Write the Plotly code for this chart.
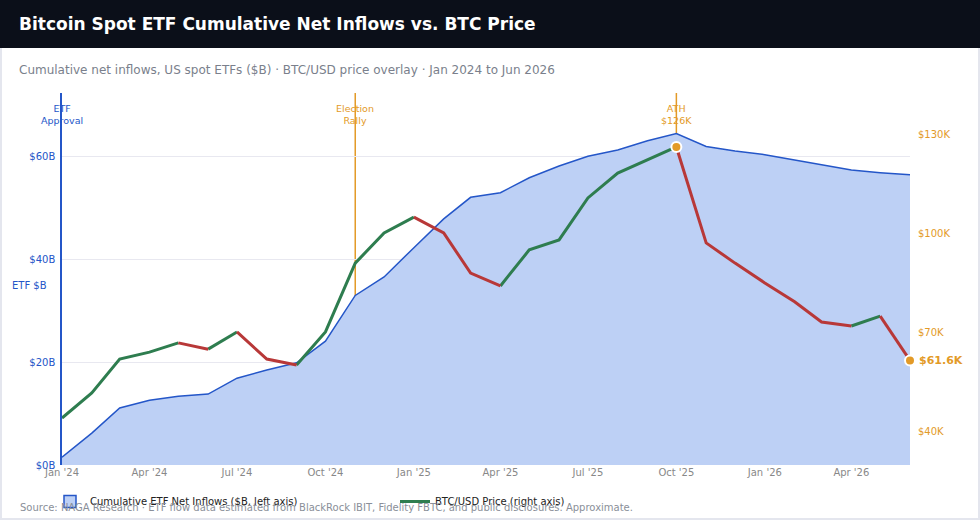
import plotly.graph_objects as go
import pandas as pd

# ---- data ----
months = pd.date_range("2024-01-01", "2026-06-01", freq="MS").strftime("%Y-%m-%d").tolist()
etf_cum_b = [1.5, 6.2, 11.1, 12.6, 13.4, 13.8, 16.9, 18.5, 19.9, 24.1,
             33.0, 36.6, 42.3, 47.9, 52.1, 53.0, 55.9, 58.2, 60.1, 61.3,
             63.1, 64.5, 62.0, 61.1, 60.4, 59.4, 58.4, 57.4, 56.9, 56.5]
btc_price_k = [44.2, 51.8, 62.0, 64.1, 66.9, 65.0, 70.2, 62.0, 60.2, 70.2,
               91.0, 100.1, 104.9, 100.1, 88.0, 84.1, 95.0, 98.0, 110.7, 118.2,
               122.1, 126.1, 97.1, 91.0, 85.0, 79.3, 73.2, 72.0, 75.0, 61.6]
left_ticks = [0, 20, 40, 60]
left_ticktext = ["$0B", "$20B", "$40B", "$60B"]
right_ticks = [40, 70, 100, 130]
right_ticktext = ["$40K", "$70K", "$100K", "$130K"]
events = [("2024-01-01", "ETF<br>Approval", "#2456c8"),
          ("2024-11-01", "Election<br>Rally", "#e39a27"),
          ("2025-10-01", "ATH<br>$126K", "#e39a27")]

BLUE = "#2456c8"
ORANGE = "#e39a27"
GREEN = "#2e7d4f"
RED = "#b83838"
FILL = "#bdd0f5"
FONT = "DejaVu Sans"

W, H = 980, 520
L, R, T, B = 62, 70, 93, 55
PW, PH = W - L - R, H - T - B


def pxx(x):
    return (x - L) / PW


def pxy(y):
    return (H - B - y) / PH


fig = go.Figure()

fig.add_trace(go.Scatter(
    x=months, y=etf_cum_b, mode="lines", fill="tozeroy",
    line=dict(color=BLUE, width=1.5), fillcolor=FILL,
    name="Cumulative ETF Net Inflows ($B, left axis)", yaxis="y", showlegend=False,
))
# legend swatch for the area
fig.add_trace(go.Scatter(
    x=[None], y=[None], mode="markers", yaxis="y",
    marker=dict(symbol="square", size=12, color=FILL, line=dict(color=BLUE, width=1.5)),
    name="Cumulative ETF Net Inflows ($B, left axis)", legendrank=1,
))

# price segments coloured by direction, grouped into runs
runs = {GREEN: ([], []), RED: ([], [])}
i = 0
n = len(btc_price_k)
while i < n - 1:
    col = GREEN if btc_price_k[i + 1] >= btc_price_k[i] else RED
    j = i
    while j < n - 1 and ((btc_price_k[j + 1] >= btc_price_k[j]) == (col == GREEN)):
        j += 1
    xs, ys = runs[col]
    xs.extend(months[i:j + 1] + [None])
    ys.extend(btc_price_k[i:j + 1] + [None])
    i = j

fig.add_trace(go.Scatter(x=runs[GREEN][0], y=runs[GREEN][1], mode="lines",
                         line=dict(color=GREEN, width=3), yaxis="y2",
                         name="BTC/USD Price (right axis)", connectgaps=False, legendrank=2))
fig.add_trace(go.Scatter(x=runs[RED][0], y=runs[RED][1], mode="lines",
                         line=dict(color=RED, width=3), yaxis="y2",
                         showlegend=False, connectgaps=False))

ath_i = btc_price_k.index(max(btc_price_k))
fig.add_trace(go.Scatter(
    x=[months[ath_i], months[-1]], y=[btc_price_k[ath_i], btc_price_k[-1]],
    mode="markers", marker=dict(color=ORANGE, size=10, line=dict(color="white", width=2)),
    yaxis="y2", showlegend=False, cliponaxis=False,
))

shapes = []
annotations = []
# frame
shapes.append(dict(type="rect", xref="paper", yref="paper", x0=pxx(1), x1=pxx(979), y0=pxy(519), y1=pxy(1),
                   line=dict(color="#e4e6ee", width=2), fillcolor="rgba(0,0,0,0)", layer="below"))
# title band
shapes.append(dict(type="rect", xref="paper", yref="paper", x0=pxx(0), x1=pxx(980), y0=pxy(48), y1=pxy(0),
                   line=dict(width=0), fillcolor="#0b0f19", layer="above"))

for k, (d, label, col) in enumerate(events):
    if k > 0:
        shapes.append(dict(type="line", xref="x", yref="paper", x0=d, x1=d, y0=0, y1=1,
                           line=dict(color=col, width=1.5), layer="below"))
    annotations.append(dict(x=d, xref="x", y=pxy(115), yref="paper", text=label, showarrow=False,
                            font=dict(family=FONT, size=9.5, color=col), align="center",
                            xanchor="center", yanchor="middle"))

annotations += [
    dict(x=pxx(17), y=pxy(24), xref="paper", yref="paper", text="<b>Bitcoin Spot ETF Cumulative Net Inflows vs. BTC Price</b>",
         showarrow=False, xanchor="left", yanchor="middle", font=dict(family=FONT, size=17, color="white")),
    dict(x=pxx(17), y=pxy(70), xref="paper", yref="paper",
         text="Cumulative net inflows, US spot ETFs ($B) · BTC/USD price overlay · Jan 2024 to Jun 2026",
         showarrow=False, xanchor="left", yanchor="middle", font=dict(family=FONT, size=12, color="#7a7f8c")),
    dict(x=pxx(10), y=pxy(285), xref="paper", yref="paper", text="ETF $B", showarrow=False,
         xanchor="left", yanchor="middle", font=dict(family=FONT, size=10, color=BLUE)),
    dict(x=months[-1], xref="x", y=btc_price_k[-1], yref="y2", text="<b>$%.1fK</b>" % btc_price_k[-1],
         showarrow=False, xanchor="left", yanchor="middle", xshift=7,
         font=dict(family=FONT, size=11, color=ORANGE)),
    dict(x=pxx(18), y=pxy(508), xref="paper", yref="paper",
         text="Source: NAGA Research · ETF flow data estimated from BlackRock IBIT, Fidelity FBTC, and public disclosures. Approximate.",
         showarrow=False, xanchor="left", yanchor="middle", font=dict(family=FONT, size=10, color="#8a8f99")),
]

fig.update_layout(
    width=W, height=H,
    margin=dict(l=L, r=R, t=T, b=B, autoexpand=False),
    paper_bgcolor="white", plot_bgcolor="white",
    font=dict(family=FONT, size=10, color="#333"),
    showlegend=True,
    legend=dict(orientation="h", xref="container", yref="container", x=50 / W, y=(H - 487) / H,
                xanchor="left", yanchor="top",
                font=dict(family=FONT, size=10, color="#222"), entrywidth=300, entrywidthmode="pixels",
                bgcolor="rgba(0,0,0,0)", itemwidth=30, tracegroupgap=0),
    xaxis=dict(type="date", range=[months[0], months[-1]], tickformat="%b '%y", dtick="M3",
               tick0=months[0], showgrid=False, zeroline=False, showline=False, ticks="",
               tickfont=dict(family=FONT, size=10, color="#888")),
    yaxis=dict(range=[0, 72.4], tickvals=left_ticks, ticktext=left_ticktext, showgrid=True,
               gridcolor="#e8e8f0", gridwidth=1, zeroline=False, showline=True, linecolor=BLUE,
               linewidth=1.5, ticks="", ticklabelstandoff=3,
               tickfont=dict(family=FONT, size=10, color=BLUE)),
    yaxis2=dict(range=[30, 142.4], overlaying="y", side="right", tickvals=right_ticks,
                ticktext=right_ticktext, showgrid=False, zeroline=False, showline=False, ticks="",
                ticklabelstandoff=7, tickfont=dict(family=FONT, size=10, color=ORANGE)),
    shapes=shapes, annotations=annotations,
)

fig.write_html("out.html")
